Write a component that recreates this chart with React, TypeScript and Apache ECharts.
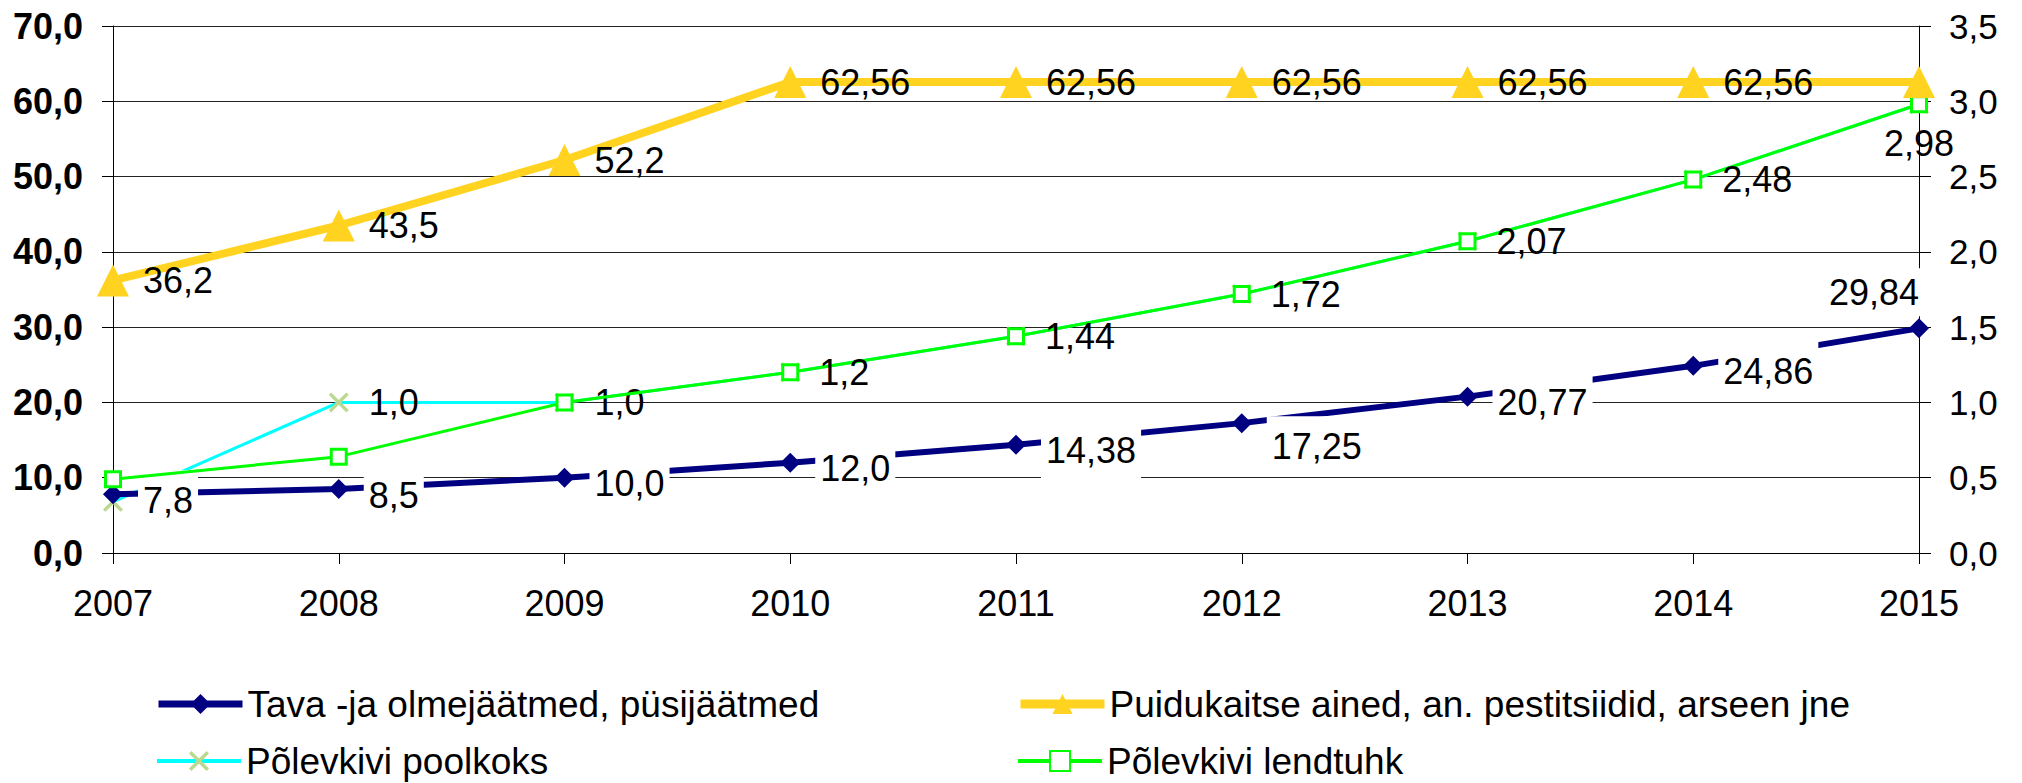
import React, { useEffect, useRef } from "react";
import * as echarts from "echarts";

const years = ["2007", "2008", "2009", "2010", "2011", "2012", "2013", "2014", "2015"];
const tava = [7.8, 8.5, 10.0, 12.0, 14.38, 17.25, 20.77, 24.86, 29.84];
const puidu = [36.2, 43.5, 52.2, 62.56, 62.56, 62.56, 62.56, 62.56, 62.56];
const poolkoks = [0.34, 1.0, 1.0, 1.2, 1.44, 1.72, 2.07, 2.48, 2.98];
const lendtuhk = [0.49, 0.64, 1.0, 1.2, 1.44, 1.72, 2.07, 2.48, 2.98];

const leftTicks = { min: 0, max: 70, interval: 10 };
const rightTicks = { min: 0, max: 3.5, interval: 0.5 };

const names = [
  "Tava -ja olmejäätmed, püsijäätmed",
  "Puidukaitse ained, an. pestitsiidid, arseen jne",
  "Põlevkivi poolkoks",
  "Põlevkivi lendtuhk",
];

const FONT = 'Arial, "Liberation Sans", Helvetica, sans-serif';
const X_PATH =
  "path://M0,1.2L1.2,0L5,3.8L8.8,0L10,1.2L6.2,5L10,8.8L8.8,10L5,6.2L1.2,10L0,8.8L3.8,5Z";

function fmtVal(v: number): string {
  const s = String(v);
  return s.indexOf(".") < 0 ? s + ",0" : s.replace(".", ",");
}

export default function App() {
  const ref = useRef<HTMLDivElement>(null);
  useEffect(() => {
    if (!ref.current) return;
    const chart = echarts.init(ref.current, null, { renderer: "svg" });
    const labelText = { color: "#000", fontSize: 36, fontFamily: FONT, lineHeight: 40 };
    const legendBase = {
      orient: "horizontal",
      itemWidth: 84,
      itemHeight: 25,
      padding: 0,
      selectedMode: false,
      textStyle: { fontSize: 37, lineHeight: 40, color: "#000", fontFamily: FONT },
    };
    const option = {
      animation: false,
      backgroundColor: "#fff",
      textStyle: { fontFamily: FONT },
      grid: { left: 113, right: 103, top: 26, bottom: 230, containLabel: false },
      legend: [
        { ...legendBase, left: 155, top: 684, data: [{ name: names[0], lineStyle: { width: 7 } }] },
        { ...legendBase, left: 1016, top: 684, data: [{ name: names[1], lineStyle: { width: 9 } }] },
        { ...legendBase, left: 155, top: 741, data: [{ name: names[2], lineStyle: { width: 4 } }] },
        { ...legendBase, left: 1016, top: 741, data: [{ name: names[3], lineStyle: { width: 4 } }] },
      ],
      xAxis: {
        type: "category",
        data: years,
        boundaryGap: false,
        axisLine: { show: true, lineStyle: { color: "#000", width: 1 } },
        axisTick: { show: true, length: 11, lineStyle: { color: "#000" } },
        axisLabel: { color: "#000", fontSize: 36, fontFamily: FONT, margin: 32 },
        splitLine: { show: false },
      },
      yAxis: [
        {
          type: "value",
          min: leftTicks.min,
          max: leftTicks.max,
          interval: leftTicks.interval,
          axisLine: { show: true, lineStyle: { color: "#000", width: 1 } },
          axisTick: { show: true, length: 11, lineStyle: { color: "#000" } },
          axisLabel: {
            color: "#000",
            fontSize: 36,
            fontWeight: "bold",
            fontFamily: FONT,
            margin: 30,
            formatter: (v: number) => v.toFixed(1).replace(".", ","),
          },
          splitLine: { show: true, lineStyle: { color: "#222", width: 1 } },
        },
        {
          type: "value",
          min: rightTicks.min,
          max: rightTicks.max,
          interval: rightTicks.interval,
          position: "right",
          axisLine: { show: true, lineStyle: { color: "#000", width: 1 } },
          axisTick: { show: true, length: 12, lineStyle: { color: "#000" } },
          axisLabel: {
            color: "#000",
            fontSize: 35,
            fontFamily: FONT,
            margin: 30,
            formatter: (v: number) => v.toFixed(1).replace(".", ","),
          },
          splitLine: { show: false },
        },
      ],
      series: [
        {
          name: names[2],
          type: "line",
          z: 2,
          yAxisIndex: 1,
          symbol: X_PATH,
          symbolSize: 20,
          lineStyle: { color: "#00FFFF", width: 3 },
          itemStyle: { color: "#B9DA8E" },
          label: {
            show: false,
            position: "right",
            distance: 20,
            ...labelText,
            formatter: (p: any) => fmtVal(p.value),
          },
          data: poolkoks.map((v, i) => ({ value: v, label: { show: i === 1 || i === 2 } })),
        },
        {
          name: names[0],
          type: "line",
          z: 3,
          yAxisIndex: 0,
          symbol: "diamond",
          symbolSize: 20,
          lineStyle: { color: "#000080", width: 6 },
          itemStyle: { color: "#000080" },
          label: {
            show: true,
            position: "right",
            distance: 15,
            backgroundColor: "#fff",
            padding: [4, 5, 16, 5],
            offset: [0, 6],
            ...labelText,
            formatter: (p: any) => fmtVal(p.value),
          },
          data: tava.map((v, i) => {
            if (i === 5) return { value: v, label: { offset: [0, 23] } };
            if (i === tava.length - 1)
              return {
                value: v,
                label: { position: "top", distance: 2, offset: [-45, 0], padding: [4, 6, 4, 6] },
              };
            return v;
          }),
        },
        {
          name: names[3],
          type: "line",
          z: 4,
          yAxisIndex: 1,
          symbol: "rect",
          symbolSize: 15,
          lineStyle: { color: "#00FF00", width: 3 },
          itemStyle: { color: "#fff", borderColor: "#00FF00", borderWidth: 3 },
          label: {
            show: false,
            position: "right",
            distance: 20,
            ...labelText,
            formatter: (p: any) => fmtVal(p.value),
          },
          data: lendtuhk.map((v, i) => {
            if (i === lendtuhk.length - 1)
              return { value: v, label: { show: true, position: "bottom", distance: 10 } };
            return { value: v, label: { show: i >= 3 } };
          }),
        },
        {
          name: names[1],
          type: "line",
          z: 5,
          yAxisIndex: 0,
          symbol: "triangle",
          symbolSize: 32,
          lineStyle: { color: "#FFD320", width: 8 },
          itemStyle: { color: "#FFD320" },
          label: {
            show: true,
            position: "right",
            distance: 14,
            ...labelText,
            formatter: (p: any) => fmtVal(p.value),
          },
          data: puidu.map((v, i) => ({ value: v, label: { show: i < puidu.length - 1 } })),
        },
      ],
    };
    chart.setOption(option as any);
    return () => chart.dispose();
  }, []);
  return (
    <div
      ref={ref}
      style={{ position: "absolute", left: 0, top: 0, width: 2022, height: 783, background: "#fff" }}
    />
  );
}
